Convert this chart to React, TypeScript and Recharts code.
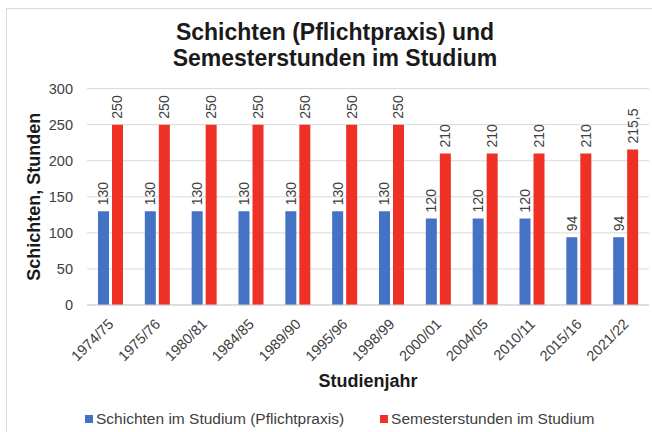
import * as React from "react"
import { Bar, BarChart, CartesianGrid, Label, LabelList, Legend, XAxis, YAxis } from "recharts"

const years = [
  "1974/75", "1975/76", "1980/81", "1984/85", "1989/90", "1995/96",
  "1998/99", "2000/01", "2004/05", "2010/11", "2015/16", "2021/22",
]
const schichten = [130, 130, 130, 130, 130, 130, 130, 120, 120, 120, 94, 94]
const semesterstunden = [250, 250, 250, 250, 250, 250, 250, 210, 210, 210, 210, 215.5]
const yTicks = [0, 50, 100, 150, 200, 250, 300]

const seriesInfo = [
  { key: "schichten", name: "Schichten im Studium (Pflichtpraxis)", color: "#4472C4" },
  { key: "semesterstunden", name: "Semesterstunden im Studium", color: "#EE3124" },
]

const data = years.map((year, i) => ({
  year,
  schichten: schichten[i],
  semesterstunden: semesterstunden[i],
}))

const FONT = '"Liberation Sans", Arial, sans-serif'

const fmt = (v: number) => String(v).replace(".", ",")

const YearTick = ({ x, y, payload }: any) => (
  <text
    x={x + 4}
    y={y}
    textAnchor="end"
    transform={`rotate(-45 ${x + 4} ${y})`}
    fontSize={14.5}
    fontFamily={FONT}
    fill="#404040"
  >
    {payload.value}
  </text>
)

const ValueLabel = ({ x, y, width, value }: any) => {
  const cx = x + width / 2
  const cy = y - 6
  return (
    <text
      x={cx}
      y={cy}
      transform={`rotate(-90 ${cx} ${cy})`}
      textAnchor="start"
      dominantBaseline="central"
      fontSize={14}
      fontFamily={FONT}
      fill="#404040"
    >
      {fmt(value)}
    </text>
  )
}

const LegendContent = () => (
  <div style={{ display: "flex", alignItems: "center", height: 20, fontFamily: FONT, fontSize: 15.5, color: "#404040" }}>
    {seriesInfo.map((s, i) => (
      <div key={s.key} style={{ display: "flex", alignItems: "center", marginLeft: i === 0 ? 0 : 36 }}>
        <span style={{ width: 8, height: 8, background: s.color, marginRight: 3, display: "inline-block" }} />
        <span>{s.name}</span>
      </div>
    ))}
  </div>
)

export default function App() {
  return (
    <div style={{ position: "relative", width: 652, height: 432, background: "#fff", overflow: "hidden" }}>
      <style>{`body{margin:0}`}</style>
      <div
        style={{
          position: "absolute",
          left: 6,
          top: 8,
          width: 700,
          height: 500,
          border: "1px solid #d9d9d9",
        }}
      />
      <div
        style={{
          position: "absolute",
          left: 10,
          top: 19,
          width: 650,
          textAlign: "center",
          fontFamily: FONT,
          fontWeight: "bold",
          fontSize: 23,
          lineHeight: "26px",
          color: "#1a1a1a",
        }}
      >
        Schichten (Pflichtpraxis) und
        <br />
        Semesterstunden im Studium
      </div>
      <div style={{ position: "absolute", left: 0, top: 0 }}>
        <BarChart
          width={652}
          height={432}
          data={data}
          margin={{ top: 88.6, right: 3, bottom: 3, left: 0 }}
          barSize={11}
          barGap={3}
        >
          <CartesianGrid vertical={false} stroke="#d9d9d9" />
          <XAxis
            dataKey="year"
            height={104}
            interval={0}
            tickLine={false}
            tickSize={0}
            tickMargin={20}
            stroke="#d0d0d0"
            tick={<YearTick />}
          >
            <Label
              content={({ viewBox }: any) => (
                <text
                  x={viewBox.x + viewBox.width / 2}
                  y={viewBox.y + 76}
                  textAnchor="middle"
                  dominantBaseline="central"
                  fontSize={18}
                  fontWeight="bold"
                  fontFamily={FONT}
                  fill="#1a1a1a"
                >
                  Studienjahr
                </text>
              )}
            />
          </XAxis>
          <YAxis
            width={87}
            domain={[0, 300]}
            ticks={yTicks}
            axisLine={false}
            tickLine={false}
            tickSize={0}
            tickMargin={14}
            tick={{ fontSize: 14.5, fontFamily: FONT, fill: "#404040" }}
          >
            <Label
              content={({ viewBox }: any) => {
                const cx = 34
                const cy = viewBox.y + viewBox.height / 2
                return (
                  <text
                    x={cx}
                    y={cy}
                    transform={`rotate(-90 ${cx} ${cy})`}
                    textAnchor="middle"
                    dominantBaseline="central"
                    fontSize={18}
                    fontWeight="bold"
                    fontFamily={FONT}
                    fill="#1a1a1a"
                  >
                    Schichten, Stunden
                  </text>
                )
              }}
            />
          </YAxis>
          <Legend
            verticalAlign="bottom"
            wrapperStyle={{ left: 85, width: 560 }}
            content={<LegendContent />}
          />
          {seriesInfo.map((s) => (
            <Bar key={s.key} dataKey={s.key} name={s.name} fill={s.color} isAnimationActive={false}>
              <LabelList dataKey={s.key} content={<ValueLabel />} />
            </Bar>
          ))}
        </BarChart>
      </div>
    </div>
  )
}
